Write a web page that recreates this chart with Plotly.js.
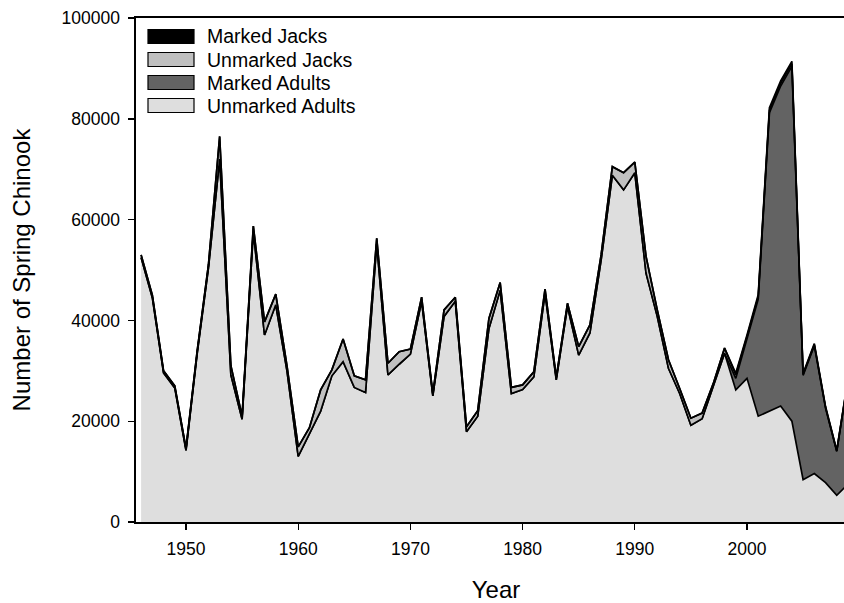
<!DOCTYPE html>
<html>
<head>
<meta charset="utf-8">
<script src="https://cdn.plot.ly/plotly-3.0.1.min.js"></script>
<style>
html, body { margin: 0; padding: 0; overflow: hidden; background: #ffffff; }
#chart { width: 870px; height: 603px; }
</style>
</head>
<body>
<div id="chart"></div>
<script>
// ---- data ----
const years = [1946,1947,1948,1949,1950,1951,1952,1953,1954,1955,
               1956,1957,1958,1959,1960,1961,1962,1963,1964,1965,
               1966,1967,1968,1969,1970,1971,1972,1973,1974,1975,
               1976,1977,1978,1979,1980,1981,1982,1983,1984,1985,
               1986,1987,1988,1989,1990,1991,1992,1993,1994,1995,
               1996,1997,1998,1999,2000,2001,2002,2003,2004,2005,
               2006,2007,2008,2009];

const unmarkedAdults = [52500,44500,29600,26600,14200,33500,50400,72000,29200,20400,
                        57600,37100,43100,30000,13000,17400,22000,29000,31800,26700,
                        25700,55200,29200,31300,33300,43800,25000,40800,43800,17900,
                        21000,38400,46000,25500,26300,28800,45400,28200,42800,33100,
                        37500,52000,68800,65900,69300,49400,40800,30500,25500,19200,
                        20500,27000,33500,26200,28500,21000,22000,23000,20000,8400,
                        9600,7800,5300,7500];

const markedAdults = [0,0,0,0,0,0,0,0,0,0,
                      0,0,0,0,0,0,0,0,0,0,
                      0,0,0,0,0,0,0,0,0,0,
                      0,0,0,0,0,0,0,0,0,0,
                      0,0,0,0,0,0,0,0,0,0,
                      0,0,0,2300,7800,23200,59200,63500,70400,20700,
                      25400,14800,8700,20700];

const unmarkedJacks = [500,500,400,400,400,500,600,4500,1800,600,
                       1100,2600,2100,1000,1900,1300,4200,1200,4500,2300,
                       2500,1100,2300,2500,1000,800,400,1300,800,1000,
                       1100,2000,1500,1200,900,1000,800,500,600,1700,
                       1600,1000,1700,3400,2100,3300,1300,1700,1000,1400,
                       1100,500,1000,700,500,500,500,500,500,200,
                       200,150,100,150];

const markedJacks = [0,0,0,0,0,0,0,0,0,0,
                     0,0,0,0,0,0,0,0,0,0,
                     0,0,0,0,0,0,0,0,0,0,
                     0,0,0,0,0,0,0,0,0,0,
                     0,0,0,0,0,0,0,0,0,0,
                     0,0,0,300,300,400,500,500,500,200,
                     200,150,100,150];

const seriesNames = ["Unmarked Adults", "Marked Adults", "Unmarked Jacks", "Marked Jacks"];
const seriesValues = [unmarkedAdults, markedAdults, unmarkedJacks, markedJacks];
const seriesColors = ["#dedede", "#636363", "#c0c0c0", "#000000"];
const xTickVals = [1950, 1960, 1970, 1980, 1990, 2000];

// ---- geometry ----
const FONT = "Liberation Sans, Arial, Helvetica, sans-serif";
const L = 136, T = 18, W = 720, H = 504;
const px = x => (x - L) / W;
const py = y => 1 - (y - T) / H;

const traces = seriesNames.map((name, i) => ({
  type: "scatter",
  mode: "lines",
  name: name,
  x: years,
  y: seriesValues[i],
  stackgroup: "one",
  fill: "tonexty",
  fillcolor: seriesColors[i],
  line: { color: "#000000", width: 1.7, shape: "linear" },
  hoverinfo: "skip"
}));

// custom legend (top entry first: Marked Jacks ... Unmarked Adults)
const legendOrder = [3, 2, 1, 0];
const shapes = [];
const annotations = [];
legendOrder.forEach((idx, row) => {
  const cy = 36.5 + row * 23;
  shapes.push({
    type: "rect", xref: "paper", yref: "paper",
    x0: px(148), x1: px(194), y0: py(cy - 7), y1: py(cy + 7),
    fillcolor: seriesColors[idx], line: { color: "#000000", width: 1.2 }
  });
  annotations.push({
    xref: "paper", yref: "paper", x: px(205), y: py(cy),
    xanchor: "left", yanchor: "middle", showarrow: false,
    text: seriesNames[idx],
    font: { family: FONT, size: 19.5, color: "#000000" }
  });
});

const layout = {
  width: 870, height: 603,
  margin: { l: L, r: 870 - L - W, t: T, b: 603 - T - H, pad: 0 },
  paper_bgcolor: "#ffffff", plot_bgcolor: "#ffffff",
  showlegend: false,
  font: { family: FONT, color: "#000000" },
  xaxis: {
    range: [1945.544, 2009.715],
    tickmode: "array", tickvals: xTickVals,
    ticks: "outside", ticklen: 6, tickwidth: 1.4, tickcolor: "#000000",
    ticklabelstandoff: 4,
    showline: true, linecolor: "#000000", linewidth: 1.6, mirror: true,
    showgrid: false, zeroline: false,
    tickfont: { family: FONT, size: 17.5, color: "#000000" },
    title: { text: "Year", font: { family: FONT, size: 24, color: "#000000" }, standoff: 29 },
    automargin: false
  },
  yaxis: {
    range: [0, 100000], dtick: 20000, tick0: 0, tickformat: "d",
    ticks: "outside", ticklen: 6, tickwidth: 1.4, tickcolor: "#000000",
    ticklabelstandoff: 5,
    showline: true, linecolor: "#000000", linewidth: 1.6, mirror: false,
    showgrid: false, zeroline: false,
    tickfont: { family: FONT, size: 17.5, color: "#000000" },
    title: { text: "Number of Spring Chinook", font: { family: FONT, size: 24, color: "#000000" }, standoff: 24 },
    automargin: false
  },
  shapes: shapes,
  annotations: annotations
};

Plotly.newPlot("chart", traces, layout, { staticPlot: true, displayModeBar: false });
</script>
</body>
</html>
